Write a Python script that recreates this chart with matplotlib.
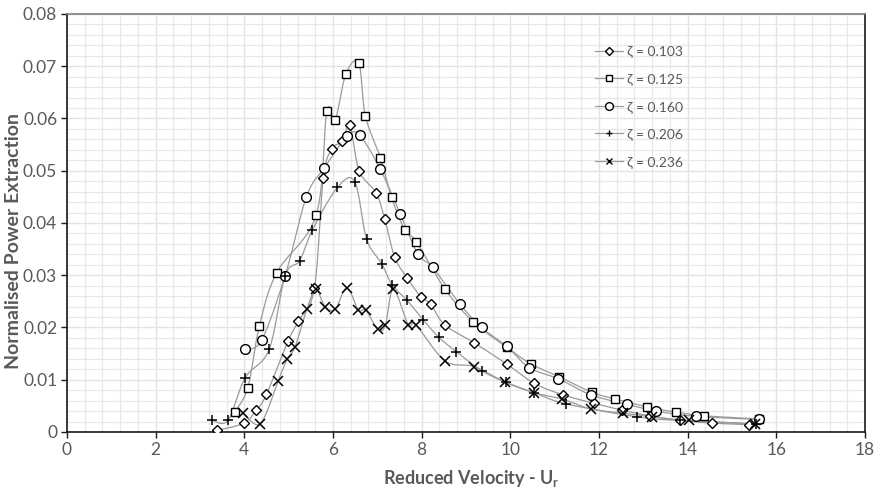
import numpy as np
import matplotlib
matplotlib.use("Agg")
import matplotlib.pyplot as plt
from matplotlib.ticker import MultipleLocator, FuncFormatter
from matplotlib.lines import Line2D

plt.rcParams['font.family'] = ['Lato', 'DejaVu Sans']

# Reduced velocity (x) and normalised power extraction (y) for each damping ratio
ur_103 = [3.39, 3.99, 4.27, 4.50, 4.99, 5.22, 5.58, 5.78, 5.98, 6.21, 6.38, 6.59, 6.97,
          7.17, 7.39, 7.68, 7.98, 8.20, 8.52, 9.18, 9.92, 10.54, 11.19, 11.88, 12.51,
          13.14, 13.83, 14.54, 15.39]
p_103 = [0.0003, 0.0017, 0.0042, 0.0072, 0.0175, 0.0212, 0.0275, 0.0486, 0.0542, 0.0556,
         0.0587, 0.0500, 0.0458, 0.0407, 0.0335, 0.0294, 0.0259, 0.0245, 0.0205, 0.0171,
         0.0130, 0.0093, 0.0071, 0.0055, 0.0042, 0.0031, 0.0022, 0.0017, 0.0014]

ur_125 = [3.78, 4.08, 4.34, 4.73, 5.62, 5.86, 6.05, 6.29, 6.58, 6.73, 7.07, 7.32, 7.62,
          7.88, 8.53, 9.16, 9.92, 10.47, 11.09, 11.84, 12.37, 13.08, 13.73, 14.37, 15.61]
p_125 = [0.0038, 0.0085, 0.0203, 0.0305, 0.0415, 0.0614, 0.0598, 0.0685, 0.0707, 0.0605,
         0.0525, 0.0449, 0.0387, 0.0364, 0.0273, 0.0211, 0.0162, 0.0130, 0.0106, 0.0076,
         0.0063, 0.0048, 0.0038, 0.0031, 0.0025]

ur_160 = [4.01, 4.39, 4.92, 5.40, 5.80, 6.32, 6.60, 7.06, 7.52, 7.91, 8.25, 8.86, 9.35,
          9.92, 10.43, 11.08, 11.82, 12.63, 13.29, 14.18, 15.60]
p_160 = [0.0158, 0.0176, 0.0299, 0.0450, 0.0505, 0.0566, 0.0568, 0.0504, 0.0417, 0.0341,
         0.0315, 0.0245, 0.0200, 0.0164, 0.0123, 0.0102, 0.0071, 0.0053, 0.0040, 0.0030,
         0.0024]

ur_206 = [3.26, 3.63, 4.02, 4.56, 4.92, 5.25, 5.53, 6.10, 6.49, 6.76, 7.10, 7.33, 7.66,
          8.03, 8.39, 8.78, 9.36, 9.91, 10.54, 11.25, 12.86, 13.83, 15.53]
p_206 = [0.0023, 0.0022, 0.0104, 0.0158, 0.0299, 0.0328, 0.0386, 0.0468, 0.0479, 0.0369,
         0.0322, 0.0282, 0.0253, 0.0215, 0.0181, 0.0154, 0.0117, 0.0095, 0.0075, 0.0054,
         0.0029, 0.0022, 0.0016]

ur_236 = [3.97, 4.36, 4.76, 4.96, 5.14, 5.41, 5.61, 5.82, 6.05, 6.31, 6.57, 6.74, 7.01,
          7.18, 7.36, 7.70, 7.87, 8.53, 9.19, 9.89, 10.54, 11.17, 11.82, 12.55, 13.19,
          14.04, 15.52]
p_236 = [0.0037, 0.0016, 0.0097, 0.0139, 0.0162, 0.0235, 0.0273, 0.0240, 0.0235, 0.0276,
         0.0234, 0.0233, 0.0197, 0.0204, 0.0273, 0.0205, 0.0205, 0.0136, 0.0125, 0.0095,
         0.0075, 0.0063, 0.0044, 0.0036, 0.0029, 0.0022, 0.0015]

series_labels = ["ζ = 0.103", "ζ = 0.125", "ζ = 0.160", "ζ = 0.206", "ζ = 0.236"]
series_x = [ur_103, ur_125, ur_160, ur_206, ur_236]
series_y = [p_103, p_125, p_160, p_206, p_236]
markers = [("D", 5.0), ("s", 5.8), ("o", 7), ("+", 7), ("x", 6.5)]

LINE_GREY = "#9a9a9a"
TEXT_GREY = "#595959"


def smooth_curve(x, y, n=20):
    """Piecewise cubic Bezier through the points (Catmull-Rom style smoothing)."""
    pts = np.column_stack([np.asarray(x, float), np.asarray(y, float)])
    m = len(pts)
    out = []
    t = np.linspace(0, 1, n)[:, None]
    for i in range(m - 1):
        p0 = pts[max(i - 1, 0)]
        p1 = pts[i]
        p2 = pts[i + 1]
        p3 = pts[min(i + 2, m - 1)]
        c1 = p1 + (p2 - p0) / 6.0
        c2 = p2 - (p3 - p1) / 6.0
        seg = ((1 - t) ** 3) * p1 + 3 * ((1 - t) ** 2) * t * c1 \
            + 3 * (1 - t) * t ** 2 * c2 + t ** 3 * p2
        out.append(seg if i == 0 else seg[1:])
    seg = np.vstack(out)
    return seg[:, 0], seg[:, 1]


fig = plt.figure(figsize=(8.8, 4.91), dpi=100)
ax = fig.add_axes([0.0761, 0.1202, 0.9069, 0.8513])

for xs, ys, (mk, ms) in zip(series_x, series_y, markers):
    sx, sy = smooth_curve(xs, ys)
    ax.plot(sx, sy, color=LINE_GREY, lw=0.9, zorder=2)
    if mk in ("+", "x"):
        ax.plot(xs, ys, ls="none", marker=mk, ms=ms, mew=1.1, color="black", zorder=3)
    else:
        ax.plot(xs, ys, ls="none", marker=mk, ms=ms, mew=1.0, mfc="white",
                mec="black", zorder=3)

ax.set_xlim(0, 18)
ax.set_ylim(0, 0.08)
ax.xaxis.set_major_locator(MultipleLocator(2))
ax.xaxis.set_minor_locator(MultipleLocator(0.4))
ax.yaxis.set_major_locator(MultipleLocator(0.01))
ax.yaxis.set_minor_locator(MultipleLocator(0.002))
ax.yaxis.set_major_formatter(FuncFormatter(
    lambda v, p: "0" if abs(v) < 1e-12 else f"{v:.2f}"))

ax.grid(which="major", color="#e3e3e3", lw=1.0, zorder=0)
ax.grid(which="minor", color="#e8e8e8", lw=0.9, zorder=0)
ax.set_axisbelow(True)

for side in ("left", "bottom", "right"):
    ax.spines[side].set_color("#1a1a1a")
    ax.spines[side].set_linewidth(1.2)
ax.spines["top"].set_color("#7f7f7f")
ax.spines["top"].set_linewidth(1.2)

ax.tick_params(which="major", direction="out", length=4, width=1, color="#1a1a1a",
               labelsize=12.5, labelcolor=TEXT_GREY, pad=3)
ax.tick_params(which="minor", length=0)

ax.set_xlabel("Reduced Velocity - U$_\\mathregular{r}$", fontsize=13, fontweight="bold",
              color=TEXT_GREY)
ax.xaxis.set_label_coords(0.506, -0.085)
ax.set_ylabel("Normalised Power Extraction", fontsize=14, fontweight="bold",
              color=TEXT_GREY)
ax.yaxis.set_label_coords(-0.056, 0.458)

handles = []
for lab, (mk, ms) in zip(series_labels, markers):
    if mk in ("+", "x"):
        h = Line2D([], [], color=LINE_GREY, lw=0.9, marker=mk, ms=ms * 0.7, mew=1.0,
                   mec="black")
    else:
        h = Line2D([], [], color=LINE_GREY, lw=0.9, marker=mk, ms=ms * 0.8, mew=1.0,
                   mfc="white", mec="black")
    handles.append(h)

leg = ax.legend(handles, series_labels, loc="upper left", bbox_to_anchor=(0.655, 0.938),
                frameon=False, fontsize=10, labelspacing=1.12, handlelength=2.0,
                handletextpad=0.3, borderaxespad=0)
for t in leg.get_texts():
    t.set_color(TEXT_GREY)

fig.savefig("out.png", dpi=100)
